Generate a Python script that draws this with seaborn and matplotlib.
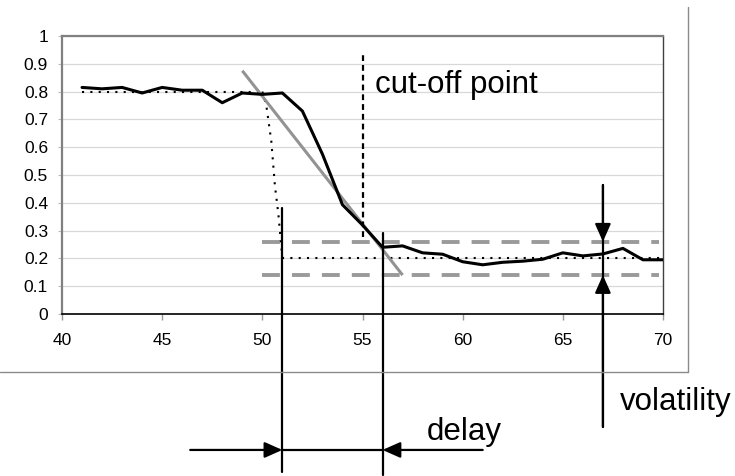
import matplotlib
matplotlib.use("Agg")
import matplotlib.pyplot as plt
import seaborn as sns
import pandas as pd
import numpy as np
from matplotlib.lines import Line2D

# ---- data ----
steps = list(range(41, 71))
values = [0.815, 0.81, 0.815, 0.795, 0.815, 0.805, 0.805, 0.76, 0.795, 0.79,
          0.795, 0.73, 0.575, 0.393, 0.32, 0.24, 0.245, 0.22, 0.215, 0.188,
          0.177, 0.186, 0.19, 0.197, 0.22, 0.209, 0.216, 0.236, 0.195, 0.195]

# fitted slope line (gray)
slope_x = [49, 57]
slope_y = [0.875, 0.14]

# volatility band (gray dashed)
band_upper = 0.26
band_lower = 0.14
band_x = [50, 69.8]

# idealised step (black dotted)
step_hi_x = [41, 50]
step_hi_y = [0.80, 0.80]
step_drop_x = [50, 50.2, 50.45, 50.63, 50.8, 51.0]
step_drop_y = [0.80, 0.75, 0.62, 0.46, 0.36, 0.20]
step_lo_x = [51, 70]
step_lo_y = [0.20, 0.20]

cutoff_x = 55
cutoff_y = [0.277, 0.94]
delay_start, delay_end = 51, 56
volatility_x = 67

x_ticks = [40, 45, 50, 55, 60, 65, 70]
y_ticks = [0, 0.1, 0.2, 0.3, 0.4, 0.5, 0.6, 0.7, 0.8, 0.9, 1.0]
y_tick_labels = ["0", "0.1", "0.2", "0.3", "0.4", "0.5", "0.6", "0.7", "0.8", "0.9", "1"]

df = pd.DataFrame({"step": steps, "value": values})

sns.set_theme(style="white")
plt.rcParams["font.family"] = ["Liberation Sans", "DejaVu Sans"]

fig = plt.figure(figsize=(7.35, 4.76), dpi=100)
ax = fig.add_axes([62/735, 1-314/476, (663-62)/735, (314-36)/476])

ax.set_xlim(40, 70)
ax.set_ylim(0, 1)
ax.set_yticks(y_ticks)
ax.set_yticklabels(y_tick_labels)
ax.set_xticks(x_ticks)
ax.yaxis.grid(True, color="#d8d8d8", lw=0.9)
ax.set_axisbelow(True)

# band & slope (gray)
ax.plot(band_x, [band_upper]*2, color="#9a9a9a", lw=2.8, dashes=(4.6, 3.1), zorder=2)
ax.plot(band_x, [band_lower]*2, color="#9a9a9a", lw=2.8, dashes=(4.6, 3.1), zorder=2)
ax.plot(slope_x, slope_y, color="#939393", lw=2.2, zorder=3, solid_capstyle="butt")

# idealised step (dotted)
dot = dict(color="black", lw=1.5, linestyle=(0, (1, 3)), zorder=2)
ax.plot(step_hi_x, step_hi_y, **dot)
ax.plot(step_drop_x, step_drop_y, **dot)
ax.plot(step_lo_x, step_lo_y, **dot)

# measured series
sns.lineplot(data=df, x="step", y="value", ax=ax, color="black", lw=2.2, zorder=4)

# cut-off line
ax.plot([cutoff_x]*2, cutoff_y, color="black", lw=1.6, dashes=(2.6, 1.8), zorder=3)

# delay verticals and arrows
ax.plot([delay_start]*2, [0.38, -0.568], color="black", lw=1.6, clip_on=False, zorder=5)
ax.plot([delay_end]*2, [0.29, -0.58], color="black", lw=1.6, clip_on=False, zorder=5)
ax.plot([delay_start, delay_end], [-0.489]*2, color="black", lw=1.6, clip_on=False, zorder=5)
arrow_kw = dict(arrowstyle="-|>,head_length=0.9,head_width=0.4", color="black", lw=1.6,
                shrinkA=0, shrinkB=0)
ax.annotate("", xy=(delay_start, -0.489), xytext=(46.4, -0.489),
            arrowprops=arrow_kw, annotation_clip=False)
ax.annotate("", xy=(delay_end, -0.489), xytext=(61.0, -0.489),
            arrowprops=arrow_kw, annotation_clip=False)

# volatility vertical and arrows
ax.plot([volatility_x]*2, [0.464, -0.406], color="black", lw=1.6, clip_on=False, zorder=5)
ax.annotate("", xy=(volatility_x, band_upper), xytext=(volatility_x, 0.464),
            arrowprops=arrow_kw, annotation_clip=False)
ax.annotate("", xy=(volatility_x, band_lower), xytext=(volatility_x, -0.406),
            arrowprops=arrow_kw, annotation_clip=False)

# texts
ax.text(55.62, 0.795, "cut-off point", fontsize=22.5, ha="left", va="baseline", color="black")
ax.text(58.2, -0.453, "delay", fontsize=22.5, ha="left", va="baseline", color="black",
        clip_on=False)
ax.text(67.86, -0.345, "volatility", fontsize=22.5, ha="left", va="baseline", color="black",
        clip_on=False)

ax.set_xlabel("")
ax.set_ylabel("")

# spines
for s in ["left", "top"]:
    ax.spines[s].set_color("#808080")
    ax.spines[s].set_linewidth(1.6)
ax.spines["right"].set_color("#404040")
ax.spines["right"].set_linewidth(1.0)
ax.spines["bottom"].set_color("black")
ax.spines["bottom"].set_linewidth(1.2)

ax.tick_params(axis="x", which="both", bottom=True, length=4, width=1, color="#999999",
               pad=10, labelsize=12.5, labelcolor="black")
ax.tick_params(axis="y", which="both", left=True, length=3, width=0.8, color="#bbbbbb",
               pad=7, labelsize=12.5, labelcolor="black")

# outer chart-area frame (right and bottom edges)
fig.add_artist(Line2D([0, 688/735], [1-372/476]*2, color="#8a8a8a", lw=1.0,
                      transform=fig.transFigure))
fig.add_artist(Line2D([688/735]*2, [1-372/476, 1-7/476], color="#8a8a8a", lw=1.0,
                      transform=fig.transFigure))

fig.savefig("out.png", dpi=100)
